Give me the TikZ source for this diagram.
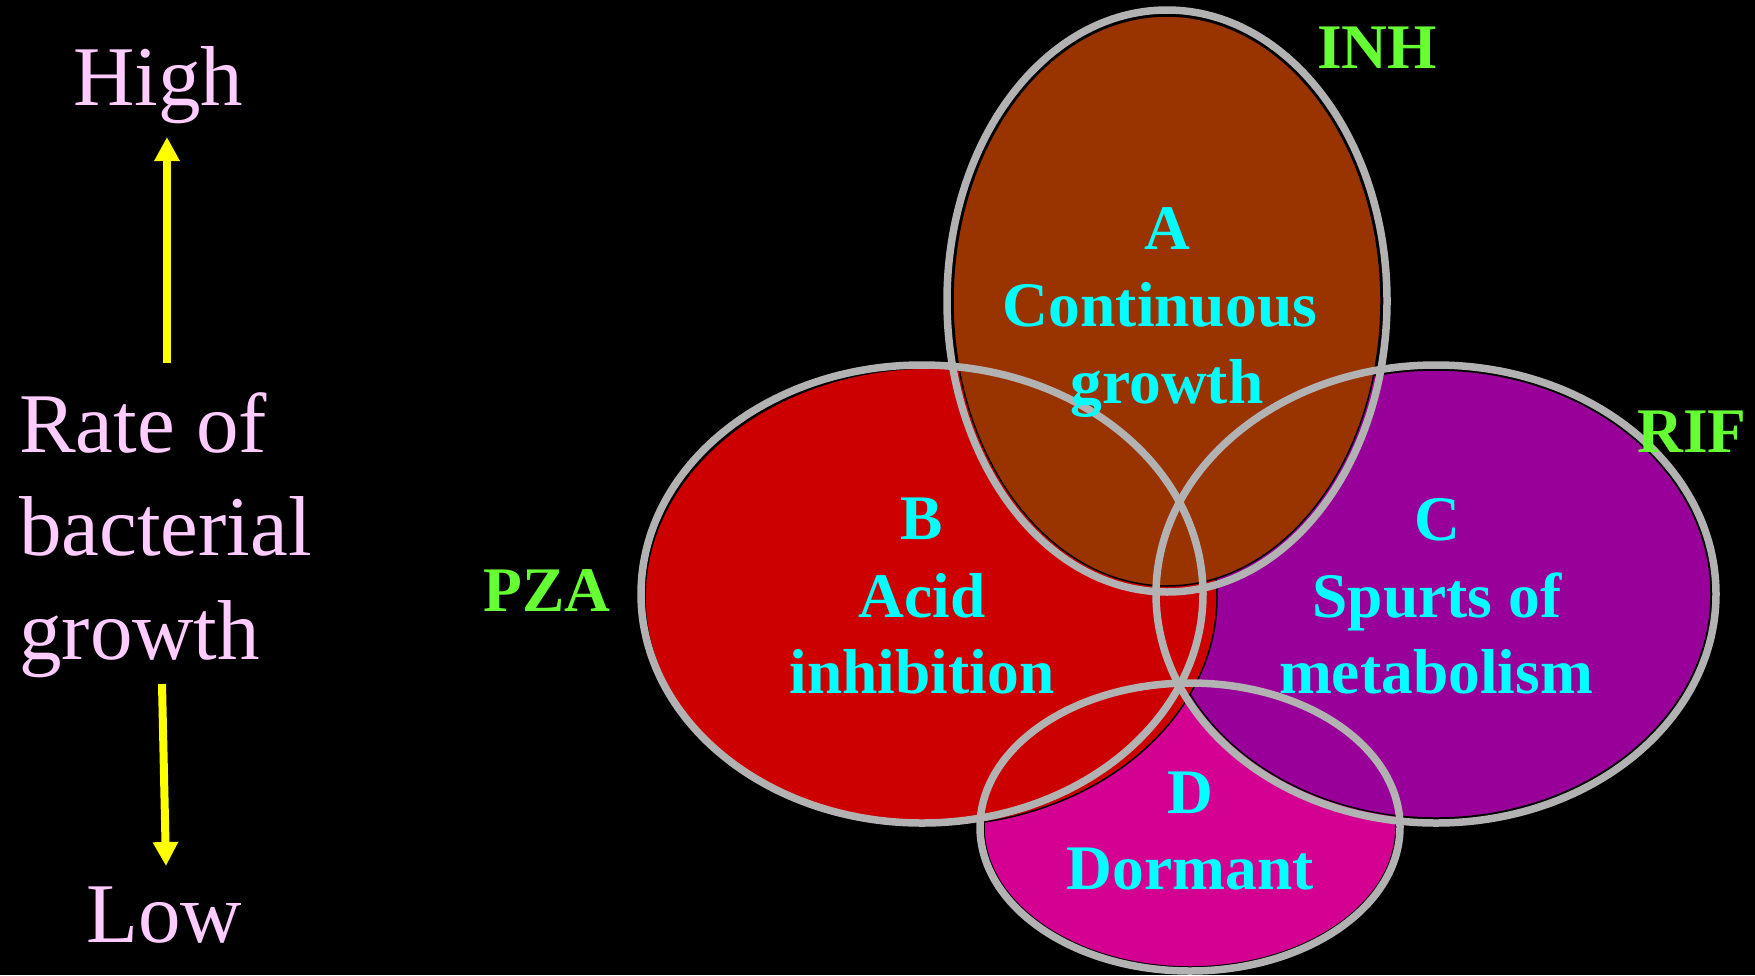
\documentclass[tikz,border=0pt]{standalone}
\usepackage{fontspec}
\setmainfont{Liberation Serif}
\usetikzlibrary{arrows.meta}
\definecolor{pinktxt}{HTML}{FFCCFF}
\definecolor{yellowarr}{HTML}{FFFF00}
\definecolor{greentxt}{HTML}{66FF33}
\definecolor{cyantxt}{HTML}{00FFFF}
\definecolor{fillA}{HTML}{993300}
\definecolor{fillB}{HTML}{CC0000}
\definecolor{fillC}{HTML}{990099}
\definecolor{fillD}{HTML}{D30092}
\definecolor{ringgray}{HTML}{B2B2B2}
\begin{document}
\begin{tikzpicture}[x=1pt,y=-1pt,
  lefttxt/.style={text=pinktxt,inner sep=0pt,font=\fontsize{85}{91}\selectfont},
  drug/.style={text=greentxt,inner sep=0pt,font=\fontsize{63.5}{76}\selectfont\bfseries},
  zone/.style={text=cyantxt,inner sep=0pt,anchor=base,font=\fontsize{63.5}{76}\selectfont\bfseries},
  zonefill/.style={draw=black,line width=1.5pt},
  ring/.style={draw=ringgray,line width=7.5pt},
  yarrow/.style={draw=yellowarr,line width=8pt,-{Triangle[width=24pt,length=24pt]}}]
\useasboundingbox[fill=black] (0,0) rectangle (1755,975);
% fills
\path[zonefill,fill=fillD] (1190,827) ellipse [x radius=206pt,y radius=140pt];
\path[zonefill,fill=fillC] (1436,594) ellipse [x radius=275pt,y radius=224pt];
\path[zonefill,fill=fillB] (931,597) ellipse [x radius=286pt,y radius=229pt];
\path[zonefill,fill=fillA] (1167,301) ellipse [x radius=214pt,y radius=285pt];
% rings
\path[ring] (1167,301) ellipse [x radius=220pt,y radius=291pt];
\path[ring] (922,594) ellipse [x radius=281pt,y radius=229pt];
\path[ring] (1436,594) ellipse [x radius=280pt,y radius=229pt];
\path[ring] (1190,827) ellipse [x radius=210pt,y radius=144pt];
% zone texts
\node[zone] (a1) at (1167,249) {A};
\node[zone] (a2) at (1160,326) {Continuous};
\node[zone] (a3) at (1167,403) {growth};
\node[zone] (b1) at (922,539) {B};
\node[zone] (b2) at (922,617) {Acid};
\node[zone] (b3) at (922,693) {inhibition};
\node[zone] (c1) at (1437,540) {C};
\node[zone] (c2) at (1437,617) {Spurts of};
\node[zone] (c3) at (1436,693) {metabolism};
\node[zone] (d1) at (1190,813) {D};
\node[zone] (d2) at (1190,889) {Dormant};
% drug labels
\node[drug,anchor=base] (inh) at (1377,68) {INH};
\node[drug,anchor=base] (rif) at (1692,452) {RIF};
\node[drug,anchor=base] (pza) at (547,611) {PZA};
% left labels
\node[lefttxt,anchor=base] (high) at (158,105) {High};
\node[lefttxt,anchor=base west] (rate1) at (19,452) {Rate of};
\node[lefttxt,anchor=base west] (rate2) at (19,555) {bacterial};
\node[lefttxt,anchor=base west] (rate3) at (19,659) {growth};
\node[lefttxt,anchor=base] (low) at (164,942) {Low};
\coordinate (upstart) at (167,363);
\coordinate (upend) at (167,137);
\coordinate (downstart) at (162,684);
\coordinate (downend) at (166,866);
\draw[yarrow] (upstart) -- (upend);
\draw[yarrow] (downstart) -- (downend);
\end{tikzpicture}
\end{document}
